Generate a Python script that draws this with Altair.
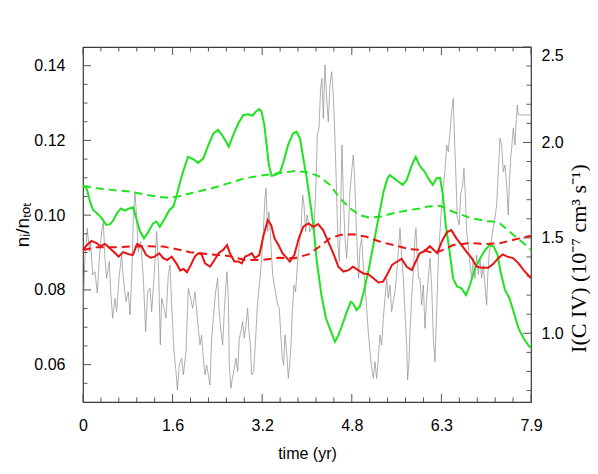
import altair as alt
import pandas as pd

# ---------------- data ----------------
# green solid (left axis)
gs_t = [0.0, 0.065, 0.124, 0.18, 0.27, 0.33, 0.41, 0.48, 0.54, 0.60, 0.67, 0.74, 0.82, 0.89, 0.95,
        1.01, 1.08, 1.16, 1.24, 1.30, 1.36, 1.45, 1.53, 1.60, 1.66, 1.72, 1.79, 1.86, 1.95, 2.04,
        2.13, 2.22, 2.31, 2.39, 2.46, 2.53, 2.58, 2.66, 2.75, 2.84, 2.93, 3.00, 3.06, 3.12, 3.16,
        3.21, 3.25, 3.29, 3.34, 3.40, 3.49, 3.55, 3.63, 3.72, 3.78, 3.84, 3.90, 3.96, 4.02, 4.08,
        4.14, 4.22, 4.30, 4.38, 4.46, 4.52, 4.58, 4.67, 4.74, 4.78, 4.84, 4.90, 4.97, 5.05, 5.14,
        5.23, 5.32, 5.39, 5.43, 5.50, 5.58, 5.66, 5.73, 5.82, 5.89, 5.96, 6.05, 6.11, 6.19, 6.26,
        6.32, 6.37, 6.42, 6.49, 6.55, 6.62, 6.70, 6.78, 6.85, 6.94, 7.03, 7.12, 7.20, 7.27, 7.34,
        7.39, 7.47, 7.55, 7.62, 7.71, 7.80, 7.88, 7.93]
gs_v = [0.1079, 0.1072, 0.1036, 0.1014, 0.1002, 0.0992, 0.0974, 0.0976, 0.0987, 0.1005, 0.1018, 0.1012, 0.1018, 0.1021, 0.0987,
        0.0956, 0.0938, 0.0956, 0.0978, 0.0983, 0.0969, 0.0992, 0.1014, 0.1023, 0.1054, 0.1090, 0.1125, 0.1156, 0.1150, 0.1140,
        0.1152, 0.1188, 0.1219, 0.1228, 0.1215, 0.1197, 0.1183, 0.1215, 0.1246, 0.1268, 0.1270, 0.1266, 0.1277, 0.1284, 0.1277,
        0.1241, 0.1188, 0.1134, 0.1105, 0.1107, 0.1116, 0.1143, 0.1188, 0.1219, 0.1223, 0.1206, 0.1152, 0.1099, 0.1036, 0.0970,
        0.0875, 0.0786, 0.0724, 0.0693, 0.0661, 0.0679, 0.0702, 0.0742, 0.0768, 0.0764, 0.0746, 0.0755, 0.0795, 0.0849, 0.0920,
        0.0992, 0.1063, 0.1099, 0.1107, 0.1099, 0.1090, 0.1081, 0.1094, 0.1134, 0.1156, 0.1132, 0.1116, 0.1099, 0.1081, 0.1099,
        0.1100, 0.1054, 0.0974, 0.0902, 0.0831, 0.0809, 0.0804, 0.0786, 0.0813, 0.0858, 0.0885, 0.0907, 0.0920, 0.0916, 0.0893,
        0.0849, 0.0800, 0.0777, 0.0742, 0.0697, 0.0670, 0.0653, 0.0644]

# green dashed (left axis)
gd_t = [0.0, 0.24, 0.54, 0.83, 1.13, 1.45, 1.66, 1.89, 2.28, 2.57, 2.87, 3.16, 3.46, 3.75, 3.99,
        4.19, 4.37, 4.55, 4.73, 4.90, 5.08, 5.26, 5.49, 5.79, 5.96, 6.11, 6.32, 6.55, 6.85, 7.14,
        7.26, 7.38, 7.62, 7.80, 7.93]
gd_v = [0.1079, 0.1072, 0.1067, 0.1063, 0.1054, 0.1047, 0.1049, 0.1058, 0.1072, 0.1085, 0.1099, 0.1106, 0.1112, 0.1118, 0.1115,
        0.1103, 0.1081, 0.1045, 0.1018, 0.1000, 0.0993, 0.0996, 0.1005, 0.1014, 0.1018, 0.1023, 0.1025, 0.1009, 0.0993, 0.0984,
        0.0983, 0.0978, 0.0947, 0.0925, 0.0907]

# red solid (left axis)
rs_t = [0.0, 0.07, 0.15, 0.24, 0.31, 0.39, 0.48, 0.57, 0.63, 0.71, 0.80, 0.88, 0.96, 1.04, 1.12,
        1.20, 1.27, 1.35, 1.42, 1.49, 1.57, 1.66, 1.72, 1.78, 1.84, 1.91, 1.98, 2.04, 2.10, 2.16,
        2.25, 2.31, 2.40, 2.48, 2.55, 2.60, 2.68, 2.75, 2.81, 2.87, 2.93, 2.99, 3.04, 3.12, 3.19,
        3.27, 3.33, 3.39, 3.46, 3.53, 3.61, 3.66, 3.74, 3.82, 3.90, 3.99, 4.08, 4.16, 4.25, 4.34,
        4.43, 4.52, 4.61, 4.70, 4.78, 4.87, 4.96, 5.05, 5.14, 5.23, 5.31, 5.38, 5.47, 5.54, 5.64,
        5.73, 5.82, 5.89, 5.96, 6.05, 6.14, 6.21, 6.27, 6.35, 6.44, 6.52, 6.61, 6.70, 6.79, 6.88,
        6.97, 7.06, 7.17, 7.26, 7.35, 7.43, 7.51, 7.61, 7.71, 7.80, 7.93]
rs_v = [0.0907, 0.0920, 0.0931, 0.0925, 0.0917, 0.0923, 0.0911, 0.0898, 0.0889, 0.0901, 0.0896, 0.0893, 0.0923, 0.0916, 0.0893,
        0.0886, 0.0889, 0.0898, 0.0885, 0.0880, 0.0889, 0.0869, 0.0852, 0.0856, 0.0847, 0.0867, 0.0889, 0.0898, 0.0895, 0.0871,
        0.0862, 0.0876, 0.0898, 0.0907, 0.0920, 0.0898, 0.0876, 0.0876, 0.0871, 0.0889, 0.0893, 0.0898, 0.0885, 0.0893, 0.0942,
        0.0987, 0.0974, 0.0938, 0.0920, 0.0898, 0.0885, 0.0876, 0.0893, 0.0938, 0.0969, 0.0978, 0.0969, 0.0976, 0.0960, 0.0929,
        0.0898, 0.0862, 0.0849, 0.0853, 0.0862, 0.0853, 0.0844, 0.0842, 0.0831, 0.0820, 0.0822, 0.0840, 0.0867, 0.0874, 0.0883,
        0.0862, 0.0853, 0.0876, 0.0898, 0.0904, 0.0917, 0.0907, 0.0898, 0.0929, 0.0954, 0.0960, 0.0938, 0.0920, 0.0902, 0.0885,
        0.0862, 0.0859, 0.0859, 0.0869, 0.0885, 0.0895, 0.0889, 0.0885, 0.0871, 0.0853, 0.0831]

# red dashed (left axis)
rd_t = [0.0, 0.24, 0.54, 0.83, 1.13, 1.42, 1.72, 1.89, 2.28, 2.57, 2.87, 3.16, 3.46, 3.75, 3.99,
        4.19, 4.37, 4.55, 4.78, 5.02, 5.26, 5.49, 5.79, 6.02, 6.20, 6.38, 6.55, 6.85, 7.14, 7.38,
        7.62, 7.85, 7.93]
rd_v = [0.0907, 0.0914, 0.0914, 0.0916, 0.0917, 0.0916, 0.0907, 0.0901, 0.0895, 0.0891, 0.0880, 0.0880, 0.0886, 0.0885, 0.0895,
        0.0916, 0.0938, 0.0947, 0.0949, 0.0942, 0.0929, 0.0920, 0.0909, 0.0907, 0.0898, 0.0907, 0.0920, 0.0925, 0.0923, 0.0925,
        0.0934, 0.0942, 0.0945]

# grey I(C IV) (right axis)
gr_t = [0.000, 0.006, 0.035, 0.077, 0.112, 0.136, 0.171, 0.212, 0.254, 0.289, 0.330, 0.360, 0.389, 0.419, 0.466,
        0.490, 0.525, 0.566, 0.596, 0.643, 0.684, 0.714, 0.761, 0.802, 0.832, 0.861, 0.891, 0.920, 0.950, 0.979,
        1.021, 1.068, 1.109, 1.145, 1.186, 1.215, 1.257, 1.304, 1.339, 1.369, 1.392, 1.434, 1.469, 1.510, 1.540,
        1.569, 1.611, 1.646, 1.670, 1.705, 1.746, 1.776, 1.823, 1.864, 1.906, 1.941, 1.982, 2.024, 2.041, 2.071,
        2.100, 2.130, 2.159, 2.189, 2.248, 2.277, 2.307, 2.348, 2.383, 2.407, 2.442, 2.472, 2.501, 2.525, 2.549,
        2.572, 2.590, 2.619, 2.643, 2.678, 2.708, 2.737, 2.767, 2.796, 2.826, 2.855, 2.885, 2.914, 2.938, 2.962,
        2.985, 3.021, 3.056, 3.091, 3.133, 3.162, 3.192, 3.221, 3.239, 3.268, 3.292, 3.327, 3.357, 3.386, 3.416,
        3.445, 3.475, 3.504, 3.528, 3.552, 3.575, 3.605, 3.634, 3.658, 3.681, 3.705, 3.735, 3.764, 3.799, 3.829,
        3.858, 3.888, 3.912, 3.941, 3.965, 3.988, 4.018, 4.047, 4.088, 4.124, 4.147, 4.177, 4.206, 4.230, 4.254,
        4.283, 4.313, 4.342, 4.372, 4.401, 4.431, 4.460, 4.490, 4.513, 4.537, 4.560, 4.584, 4.608, 4.637, 4.667,
        4.696, 4.726, 4.755, 4.785, 4.808, 4.832, 4.856, 4.879, 4.903, 4.932, 4.962, 4.991, 5.021, 5.050, 5.080,
        5.109, 5.139, 5.168, 5.198, 5.227, 5.257, 5.286, 5.316, 5.345, 5.375, 5.404, 5.434, 5.463, 5.493, 5.522,
        5.552, 5.581, 5.611, 5.640, 5.670, 5.699, 5.729, 5.746, 5.770, 5.788, 5.817, 5.847, 5.876, 5.894, 5.918,
        5.941, 5.965, 5.994, 6.024, 6.053, 6.083, 6.112, 6.142, 6.171, 6.201, 6.230, 6.260, 6.289, 6.319, 6.348,
        6.378, 6.407, 6.437, 6.466, 6.496, 6.525, 6.555, 6.572, 6.602, 6.625, 6.661, 6.684, 6.720, 6.743, 6.767,
        6.791, 6.820, 6.850, 6.879, 6.909, 6.938, 6.968, 6.997, 7.027, 7.056, 7.086, 7.115, 7.145, 7.162, 7.192,
        7.215, 7.251, 7.292, 7.322, 7.351, 7.381, 7.410, 7.440, 7.469, 7.499, 7.528, 7.546, 7.570, 7.593, 7.617,
        7.646, 7.664, 7.688, 7.705, 7.930]
gr_v = [1.100, 1.166, 1.393, 1.550, 1.428, 1.480, 1.306, 1.323, 1.210, 1.393, 1.533, 1.585, 1.393, 1.288, 1.376,
        1.218, 1.079, 1.183, 1.114, 1.306, 1.410, 1.288, 1.166, 1.218, 1.096, 1.288, 1.603, 1.742, 1.603, 1.428,
        1.480, 1.288, 1.009, 1.218, 1.236, 1.114, 1.288, 1.533, 1.323, 0.939, 1.183, 1.131, 1.079, 1.306, 1.358,
        1.149, 0.904, 0.799, 0.703, 0.834, 0.869, 0.782, 0.904, 1.236, 1.183, 1.131, 1.218, 1.079, 1.026, 0.939,
        0.991, 0.869, 0.782, 0.834, 0.729, 0.974, 1.079, 1.218, 1.288, 1.131, 1.009, 0.939, 1.114, 1.236, 1.323,
        1.183, 0.834, 0.712, 0.764, 0.817, 0.869, 0.799, 0.974, 1.009, 1.061, 0.974, 1.044, 1.131, 1.009, 0.939,
        0.782, 0.799, 0.974, 1.166, 1.288, 1.393, 1.533, 1.707, 1.760, 1.533, 1.637, 1.463, 1.306, 1.253, 1.201,
        1.149, 1.131, 0.974, 0.869, 0.834, 0.991, 0.904, 0.764, 0.834, 0.939, 1.114, 1.253, 1.218, 1.376, 1.463,
        1.533, 1.725, 1.672, 1.533, 1.620, 1.585, 1.533, 1.559, 1.533, 1.777, 2.039, 2.074, 2.283, 2.336, 2.126,
        2.406, 2.231, 2.109, 2.301, 2.371, 2.249, 2.022, 1.725, 1.463, 1.376, 1.637, 1.987, 1.725, 1.498, 1.393,
        1.533, 1.742, 1.847, 1.934, 1.812, 1.603, 1.428, 1.288, 1.445, 1.498, 1.358, 1.253, 1.131, 1.009, 0.904,
        0.817, 0.764, 0.851, 0.764, 0.869, 0.991, 0.939, 1.079, 1.183, 1.288, 1.183, 1.253, 1.114, 1.166, 1.218,
        1.306, 1.428, 1.550, 1.410, 1.288, 1.114, 0.939, 0.756, 0.851, 1.009, 1.183, 1.323, 1.498, 1.550, 1.393,
        1.288, 1.288, 1.149, 1.253, 1.026, 1.183, 1.288, 1.393, 1.253, 0.974, 0.852, 1.114, 1.376, 1.533, 1.672,
        1.777, 1.847, 1.987, 1.952, 2.057, 2.161, 2.231, 2.057, 1.812, 1.603, 1.568, 1.725, 1.777, 1.864, 1.725,
        1.533, 1.463, 1.358, 1.288, 1.393, 1.288, 1.410, 1.306, 1.393, 1.288, 1.358, 1.253, 1.149, 1.288, 1.428,
        1.463, 1.533, 1.603, 1.672, 1.847, 2.022, 1.987, 1.847, 1.882, 1.777, 1.620, 1.777, 1.917, 1.987, 2.074,
        1.987, 2.091, 2.196, 2.144, 2.144]

# axis ticks / labels
x_major = [0, 1.586, 3.172, 4.758, 6.344, 7.93]
x_minor = [round(k * 7.93 / 25, 4) for k in range(1, 25) if k % 5 != 0]
yl_major = [0.06, 0.08, 0.10, 0.12, 0.14]
yl_minor = [0.055, 0.065, 0.07, 0.075, 0.085, 0.09, 0.095, 0.105, 0.11, 0.115, 0.125, 0.13, 0.135]
yr_major = [1.0, 1.5, 2.0, 2.5]
yr_minor = [0.7, 0.8, 0.9, 1.1, 1.2, 1.3, 1.4, 1.6, 1.7, 1.8, 1.9, 2.1, 2.2, 2.3, 2.4]

W, H = 448, 355
GREEN = "#1ee31e"
RED = "#e81414"
TICK = "#555555"
MAJ, MIN = 8, 4.5

XS = alt.Scale(domain=[0, 7.93], nice=False, zero=False)
YL = alt.Scale(domain=[0.05, 0.145], nice=False, zero=False)
YR = alt.Scale(domain=[0.64, 2.5], nice=False, zero=False)

df_gs = pd.DataFrame({"t": gs_t, "v": gs_v})
df_gd = pd.DataFrame({"t": gd_t, "v": gd_v})
df_rs = pd.DataFrame({"t": rs_t, "v": rs_v})
df_rd = pd.DataFrame({"t": rd_t, "v": rd_v})
df_gr = pd.DataFrame({"t": gr_t, "v": gr_v})


def xticks(values, y0, y1):
    return alt.Chart(pd.DataFrame({"t": values})).mark_rule(color=TICK, strokeWidth=1).encode(
        x=alt.X("t:Q", scale=XS, axis=None), y=alt.value(y0), y2=alt.value(y1))


def yticks(values, scale, x0, x1):
    return alt.Chart(pd.DataFrame({"v": values})).mark_rule(color=TICK, strokeWidth=1).encode(
        y=alt.Y("v:Q", scale=scale, axis=None), x=alt.value(x0), x2=alt.value(x1))


ax_bottom = alt.Axis(orient="bottom", values=x_major, ticks=False, domain=False, grid=False,
                     labelExpr="datum.value == 0 ? '0' : format(datum.value, '.1f')",
                     labelFlush=False, labelPadding=15, titlePadding=12)
ax_left = alt.Axis(orient="left", values=yl_major, format=".2f", ticks=False, domain=False,
                   grid=False, labelFlush=False, labelPadding=18, titlePadding=1,
                   titleFontSize=19)
ax_right = alt.Axis(orient="right", values=yr_major, format=".1f", ticks=False, domain=False,
                    grid=False, labelFlush=True, labelPadding=10,
                    titleAngle=270, titleBaseline="top", titleAlign="center",
                    titleX=37, titleY=211,
                    titleFont="Liberation Serif", titleFontSize=22)

# grey series (right axis) + right-edge inward ticks
gray_main = alt.Chart(df_gr).mark_line(color="#8c8c8c", strokeWidth=0.7).encode(
    x=alt.X("t:Q", scale=XS, axis=ax_bottom, title="time (yr)"),
    y=alt.Y("v:Q", scale=YR, axis=ax_right, title="I(C IV) (10⁻⁷ cm³ s⁻¹)"),
)
gray_group = alt.layer(
    gray_main,
    yticks(yr_major, YR, W, W - MAJ),
    yticks(yr_minor, YR, W, W - MIN),
).resolve_axis(x="independent", y="independent")

# coloured series (left axis) + left/top/bottom inward ticks
green_s = alt.Chart(df_gs).mark_line(color=GREEN, strokeWidth=2).encode(
    x=alt.X("t:Q", scale=XS, axis=None),
    y=alt.Y("v:Q", scale=YL, axis=ax_left, title="nᵢ/nₜₒₜ"),
)
green_d = alt.Chart(df_gd).mark_line(color=GREEN, strokeWidth=2, strokeDash=[8, 5]).encode(
    x=alt.X("t:Q", scale=XS, axis=None),
    y=alt.Y("v:Q", scale=YL, axis=None),
)
red_s = alt.Chart(df_rs).mark_line(color=RED, strokeWidth=2).encode(
    x=alt.X("t:Q", scale=XS, axis=None),
    y=alt.Y("v:Q", scale=YL, axis=None),
)
red_d = alt.Chart(df_rd).mark_line(color=RED, strokeWidth=2, strokeDash=[8, 5]).encode(
    x=alt.X("t:Q", scale=XS, axis=None),
    y=alt.Y("v:Q", scale=YL, axis=None),
)
color_group = alt.layer(
    green_s, green_d, red_s, red_d,
    yticks(yl_major, YL, 0, MAJ),
    yticks(yl_minor, YL, 0, MIN),
    xticks(x_major, H, H - MAJ),
    xticks(x_minor, H, H - MIN),
    xticks(x_major, 0, MAJ),
    xticks(x_minor, 0, MIN),
).resolve_axis(x="independent", y="independent")

chart = (
    alt.layer(gray_group, color_group)
    .resolve_scale(y="independent")
    .resolve_axis(x="independent", y="independent")
    .properties(width=W, height=H, autosize=alt.AutoSizeParams(type="none"),
                padding={"left": 75, "top": 39, "right": 59, "bottom": 64})
    .configure_view(stroke="#3a3a3a", strokeWidth=1.2)
    .configure_axis(labelFont="Liberation Sans", labelFontSize=16, labelColor="black",
                    titleFont="Liberation Sans", titleFontSize=16, titleColor="black",
                    titleFontWeight="normal")
)

chart.save("out.html", embed_options={"renderer": "svg", "actions": False})
